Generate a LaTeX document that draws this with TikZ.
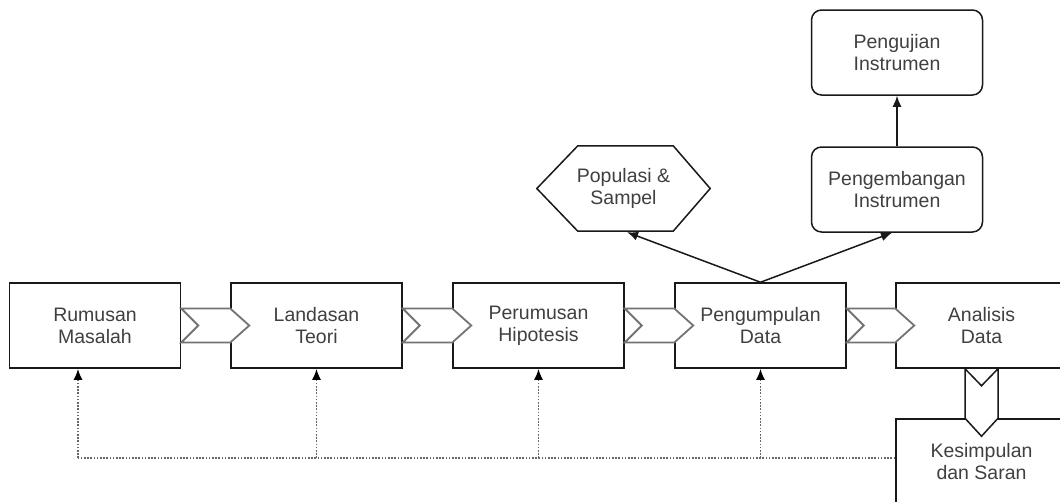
\documentclass[tikz,border=0pt]{standalone}
\usepackage{fontspec}
\setmainfont{Liberation Sans}
\usetikzlibrary{calc,arrows.meta}
\newcommand\hchev[2]{\draw[chev] ($(#1.east)+(0,-17)$) -- ($(#2.west)+(0,-17)$) -- ($(#2.west)+(19,0)$) -- ($(#2.west)+(0,17)$) -- ($(#1.east)+(0,17)$) -- ($(#1.east)+(17,0)$) -- cycle;}
\begin{document}
\begin{tikzpicture}[x=1pt,y=-1pt,
 txt/.style={align=center,font=\fontsize{19.5}{22}\selectfont,text=black!75,inner sep=0pt},
 box/.style={txt,draw=black!90,line width=1.5pt,minimum width=171pt,minimum height=85pt},
 rbox/.style={box,rounded corners=10pt},
 chev/.style={draw=black!55,fill=white,line width=1.8pt,line join=miter},
 vchev/.style={draw=black!90,fill=white,line width=1.5pt},
 arr/.style={-{Latex[length=11pt,width=9pt]},line width=1.5pt,draw=black!90},
 dotline/.style={draw=black!60,line width=1.8pt,dash pattern=on 1.6pt off 1.6pt,-{Latex[length=11pt,width=9pt,black]}},
 dotplain/.style={draw=black!60,line width=1.8pt,dash pattern=on 1.6pt off 1.6pt}]
\useasboundingbox (0,0) rectangle (1060,501);
\clip (0,0) rectangle (1060,501);
\fill[white] (0,0) rectangle (1060,501);
% main row
\node[box] (rum) at (95,325.5) {Rumusan\\Masalah};
\node[box] (lan) at (316.5,325.5) {Landasan\\Teori};
\node[box] (per) at (538.5,325.5) {Perumusan\\Hipotesis};
\node[box] (pgd) at (760.5,325.5) {Pengumpulan\\Data};
\node[box] (ana) at (981.5,325.5) {Analisis\\Data};
\node[box] (kes) at (981.5,461.5) {Kesimpulan\\dan Saran};
% upper nodes
\node[rbox] (pdi) at (897,189.5) {Pengembangan\\Instrumen};
\node[rbox] (pji) at (897,52.5) {Pengujian\\Instrumen};
\node[txt,minimum width=173pt,minimum height=85pt] (hex) at (623.5,188.5) {Populasi \&\\Sampel};
\draw[draw=black!90,line width=1.5pt,line join=miter] (hex.west) -- ($(hex.north west)+(41,0)$) -- ($(hex.north east)+(-37,0)$) -- (hex.east) -- ($(hex.south east)+(-37,0)$) -- ($(hex.south west)+(41,0)$) -- cycle;
% chevrons
\hchev{rum}{lan}
\hchev{lan}{per}
\hchev{per}{pgd}
\hchev{pgd}{ana}
\draw[vchev] ($(ana.south)+(-16.5,0)$) -- ($(ana.south)+(0,17)$) -- ($(ana.south)+(16.5,0)$) -- ($(kes.north)+(16.5,0)$) -- ($(kes.north)+(0,18)$) -- ($(kes.north)+(-16.5,0)$) -- cycle;
% arrows from Pengumpulan Data
\draw[arr] (pgd.north) -- ($(hex.south)+(3.5,1)$);
\draw[arr] (pgd.north) -- ($(pdi.south)+(-5,0)$);
\draw[arr] (pdi.north) -- (pji.south);
% dotted feedback lines
\coordinate (j) at ($(kes.west)+(0,-3.5)$);
\coordinate (r) at ($(rum.south)+(-17,0)$);
\draw[dotplain] (j) -- (j -| r);
\draw[dotline] (j -| r) -- (r);
\draw[dotline] (j -| lan.south) -- (lan.south);
\draw[dotline] (j -| per.south) -- (per.south);
\draw[dotline] (j -| pgd.south) -- (pgd.south);
\end{tikzpicture}
\end{document}
